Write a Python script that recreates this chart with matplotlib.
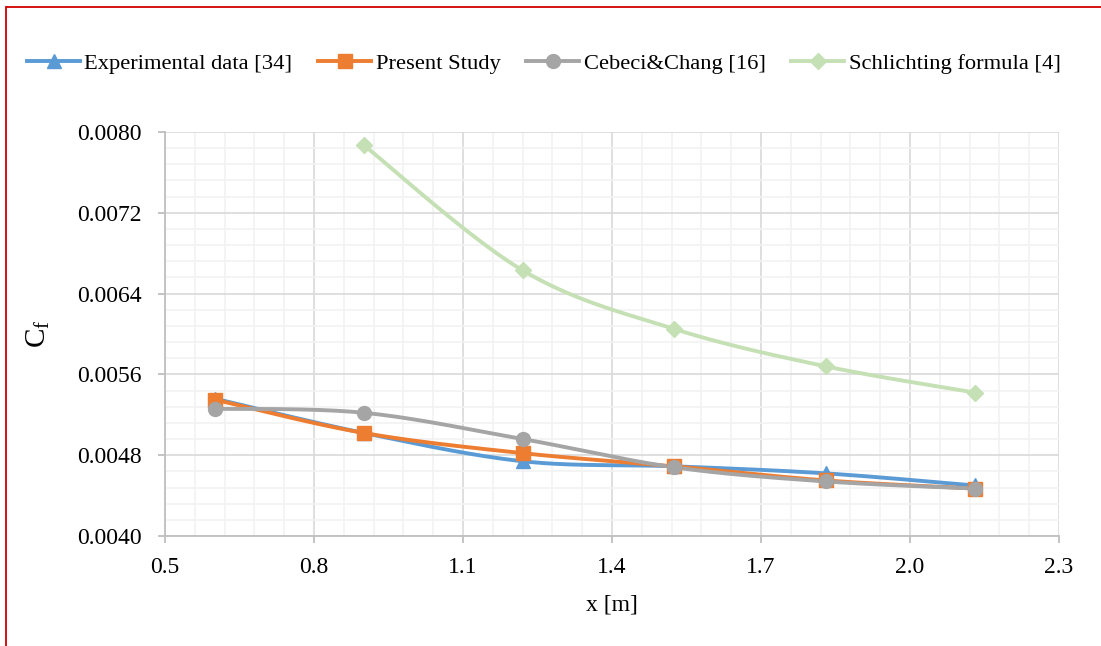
import matplotlib.pyplot as plt
from matplotlib.lines import Line2D
from matplotlib.ticker import FormatStrFormatter
import numpy as np

plt.rcParams['font.family'] = ['Liberation Serif', 'DejaVu Serif']

# data
x_pos = [0.6, 0.9, 1.22, 1.525, 1.83, 2.13]
cf_experimental = [0.00536, 0.00502, 0.00474, 0.00469, 0.00462, 0.00450]
cf_present = [0.00535, 0.00502, 0.00482, 0.00469, 0.00455, 0.00447]
cf_cebeci = [0.00526, 0.00522, 0.00496, 0.00468, 0.00454, 0.00447]
x_schlichting = [0.9, 1.22, 1.525, 1.83, 2.13]
cf_schlichting = [0.00787, 0.00663, 0.00605, 0.00568, 0.00542]

labels = ['Experimental data [34]', 'Present Study', 'Cebeci&Chang [16]',
          'Schlichting formula [4]']


def smooth(xs, ys, n=30):
    # Catmull-Rom curve through the points, like Excel's smoothed line
    p = np.column_stack([xs, ys]).astype(float)
    p = np.vstack([p[0], p, p[-1]])
    out = []
    for i in range(1, len(p) - 2):
        p0, p1, p2, p3 = p[i - 1], p[i], p[i + 1], p[i + 2]
        t = np.linspace(0, 1, n)[:, None]
        seg = 0.5 * ((2 * p1) + (-p0 + p2) * t
                     + (2 * p0 - 5 * p1 + 4 * p2 - p3) * t ** 2
                     + (-p0 + 3 * p1 - 3 * p2 + p3) * t ** 3)
        out.append(seg)
    c = np.vstack(out)
    return c[:, 0], c[:, 1]


fig = plt.figure(figsize=(11.01, 6.46), dpi=100)
ax = fig.add_axes([0.1499, 0.1703, 0.812, 0.6254])

series = [
    (x_pos, cf_experimental, '#5B9BD5', '^', 10),
    (x_pos, cf_present, '#ED7D31', 's', 9.5),
    (x_pos, cf_cebeci, '#A5A5A5', 'o', 10),
    (x_schlichting, cf_schlichting, '#C5E0B4', 'D', 8),
]
handles = []
for (xs, ys, col, mk, ms), lab in zip(series, labels):
    sx, sy = smooth(xs, ys)
    ax.plot(sx, sy, color=col, lw=2.8, zorder=3, solid_capstyle='round')
    ax.plot(xs, ys, ls='none', marker=mk, color=col, markersize=ms, zorder=4)
    handles.append(Line2D([], [], color=col, lw=2.8, marker=mk,
                          markersize=ms, label=lab))

ax.set_xlim(0.5, 2.3)
ax.set_ylim(0.004, 0.008)
ax.set_xticks(np.arange(0.5, 2.31, 0.3))
ax.set_xticks(np.arange(0.5, 2.31, 0.06), minor=True)
ax.set_yticks(np.arange(0.004, 0.00801, 0.0008))
ax.set_yticks(np.arange(0.004, 0.00801, 0.00016), minor=True)
ax.xaxis.set_major_formatter(FormatStrFormatter('%.1f'))
ax.yaxis.set_major_formatter(FormatStrFormatter('%.4f'))

ax.grid(which='major', color='#D9D9D9', lw=1.2, zorder=1)
ax.grid(which='minor', color='#F2F2F2', lw=1.2, zorder=0)
ax.set_axisbelow(True)
for s in ['top', 'right']:
    ax.spines[s].set_visible(False)
for s in ['left', 'bottom']:
    ax.spines[s].set_color('#BFBFBF')
    ax.spines[s].set_linewidth(1.3)
ax.tick_params(which='major', length=5, color='#BFBFBF', width=1.3,
               labelsize=17)
ax.tick_params(axis='y', pad=12)
ax.tick_params(axis='x', pad=10)
ax.tick_params(which='minor', length=0)

ax.set_xlabel('x [m]', fontsize=17, labelpad=12)
ax.set_ylabel('C$_\\mathregular{f}$', fontsize=21, labelpad=18)

fig.legend(handles=handles, loc='center', bbox_to_anchor=(0.494, 0.902),
           ncol=4, frameon=False, fontsize=16.2, handlelength=2.35,
           handletextpad=0.2, columnspacing=1.15)

# red outline of the cropped picture
fig.add_artist(Line2D([0.006, 1.0], [1 - 6.5 / 646, 1 - 6.5 / 646],
                      color='#D00000', lw=1.3, transform=fig.transFigure))
fig.add_artist(Line2D([6.5 / 1101, 6.5 / 1101], [0, 1 - 6.5 / 646],
                      color='#D00000', lw=1.3, transform=fig.transFigure))

fig.savefig('out.png', dpi=100)
